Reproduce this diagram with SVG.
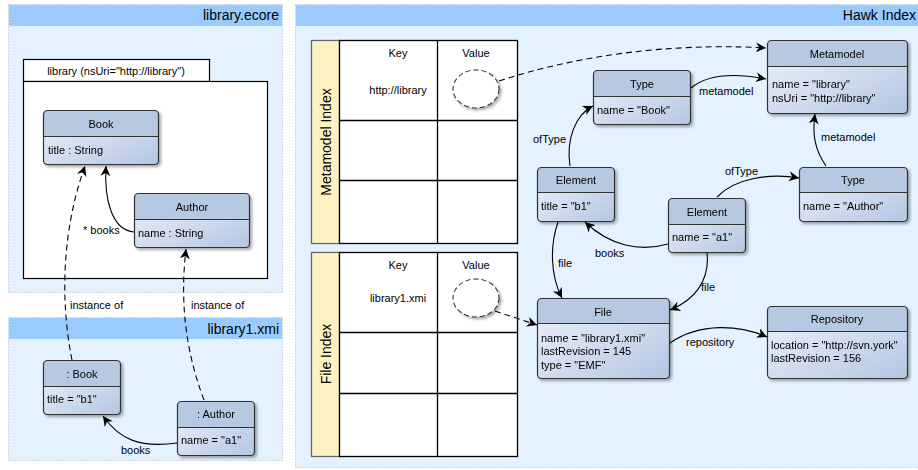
<svg xmlns="http://www.w3.org/2000/svg" width="918" height="470" viewBox="0 0 918 470">
<defs>
<style>
text{font-family:"Liberation Sans",Arial,sans-serif;fill:#000}
.t11{font-size:11px}
.t14{font-size:14px}
.mid{text-anchor:middle}
.end{text-anchor:end}
.panel{fill:#e3f2fe;stroke:#a9b4bf;stroke-dasharray:1 2;stroke-width:1}
.band{fill:#9acbfe}
.body{fill:url(#g)}
.head{fill:#b7c8e3}
.out{fill:none;stroke:#333;stroke-width:1.2}
.div{stroke:#333;stroke-width:1.2}
.cell{fill:#fff;stroke:#000;stroke-width:1.3}
.side{fill:#fff2c2;stroke:#666;stroke-width:1.3}
.c{fill:none;stroke:#000;stroke-width:1.1}
.d{stroke-dasharray:6 4}
.ell{fill:#fff;stroke:#333;stroke-width:1.1;stroke-dasharray:5 3}
</style>
<linearGradient id="g" x1="0" y1="0" x2="1" y2="1">
<stop offset="0" stop-color="#f0f3fa"/>
<stop offset="1" stop-color="#b4c6e3"/>
</linearGradient>
<filter id="sh" x="-10%" y="-10%" width="130%" height="130%">
<feDropShadow dx="2" dy="2" stdDeviation="1.5" flood-color="#000" flood-opacity="0.35"/>
</filter>
<marker id="a" viewBox="0 0 10 10" refX="10" refY="5" markerWidth="10" markerHeight="10" markerUnits="userSpaceOnUse" orient="auto">
<path d="M0,0 L10,5 L0,10 L3,5 Z" fill="#000"/>
</marker>
</defs>

<g id="panel-ecore">
<rect class="panel" x="8.5" y="4.5" width="274" height="288"/>
<rect class="band" x="9" y="5" width="273" height="21"/>
<text class="t14 end" x="279" y="20">library.ecore</text>
</g>
<g id="panel-xmi">
<rect class="panel" x="8.5" y="317.5" width="274" height="143"/>
<rect class="band" x="9" y="318" width="273" height="21"/>
<text class="t14 end" x="279" y="334">library1.xmi</text>
</g>
<g id="panel-hawk">
<rect class="panel" x="295.5" y="4.5" width="630" height="463"/>
<rect class="band" x="296" y="5" width="630" height="21"/>
<text class="t14 end" x="916" y="20">Hawk Index</text>
</g>

<g id="package-library">
<rect x="23.5" y="59.5" width="186" height="22" fill="#fff" stroke="#000" stroke-width="1.2"/>
<rect x="23.5" y="81.5" width="244" height="197" fill="#fff" stroke="#000" stroke-width="1.2"/>
<text class="t11 mid" x="116" y="75">library (nsUri="http://library")</text>
</g>

<g id="class-book" filter="url(#sh)">
<rect class="body" x="43.5" y="110.5" width="115" height="54" rx="4"/>
<path class="head" d="M43.5,136.5 V114.5 Q43.5,110.5 47.5,110.5 H154.5 Q158.5,110.5 158.5,114.5 V136.5 Z"/>
<line class="div" x1="43.5" y1="136.5" x2="158.5" y2="136.5"/>
<rect class="out" x="43.5" y="110.5" width="115" height="54" rx="4"/>
<text class="t11 mid" x="101" y="128">Book</text>
<text class="t11" x="48" y="154">title : String</text>
</g>

<g id="class-author" filter="url(#sh)">
<rect class="body" x="134.5" y="193.5" width="115" height="54" rx="4"/>
<path class="head" d="M134.5,219.5 V197.5 Q134.5,193.5 138.5,193.5 H245.5 Q249.5,193.5 249.5,197.5 V219.5 Z"/>
<line class="div" x1="134.5" y1="219.5" x2="249.5" y2="219.5"/>
<rect class="out" x="134.5" y="193.5" width="115" height="54" rx="4"/>
<text class="t11 mid" x="192" y="211">Author</text>
<text class="t11" x="138" y="237">name : String</text>
</g>

<g id="obj-book" filter="url(#sh)">
<rect class="body" x="43.5" y="360.5" width="77" height="54" rx="4"/>
<path class="head" d="M43.5,386.5 V364.5 Q43.5,360.5 47.5,360.5 H116.5 Q120.5,360.5 120.5,364.5 V386.5 Z"/>
<line class="div" x1="43.5" y1="386.5" x2="120.5" y2="386.5"/>
<rect class="out" x="43.5" y="360.5" width="77" height="54" rx="4"/>
<text class="t11 mid" x="82" y="378">: Book</text>
<text class="t11" x="47" y="403">title = "b1"</text>
</g>

<g id="obj-author" filter="url(#sh)">
<rect class="body" x="177.5" y="401.5" width="77" height="54" rx="4"/>
<path class="head" d="M177.5,427.5 V405.5 Q177.5,401.5 181.5,401.5 H250.5 Q254.5,401.5 254.5,405.5 V427.5 Z"/>
<line class="div" x1="177.5" y1="427.5" x2="254.5" y2="427.5"/>
<rect class="out" x="177.5" y="401.5" width="77" height="54" rx="4"/>
<text class="t11 mid" x="216" y="418">: Author</text>
<text class="t11" x="181" y="444">name = "a1"</text>
</g>

<g id="metamodel-index">
<rect class="side" x="311.5" y="40.5" width="28" height="203"/>
<rect class="cell" x="339.5" y="40.5" width="178" height="203"/>
<line class="cell" x1="437.5" y1="40.5" x2="437.5" y2="243.5"/>
<line class="cell" x1="339.5" y1="120.5" x2="517.5" y2="120.5"/>
<line class="cell" x1="339.5" y1="180.5" x2="517.5" y2="180.5"/>
<text class="t14 mid" transform="translate(331,142) rotate(-90)">Metamodel Index</text>
<text class="t11 mid" x="398" y="57">Key</text>
<text class="t11 mid" x="476" y="57">Value</text>
<text class="t11 mid" x="398" y="94">http://library</text>
<ellipse class="ell" cx="476" cy="89" rx="23" ry="19" filter="url(#sh)"/>
</g>

<g id="file-index">
<rect class="side" x="311.5" y="252.5" width="28" height="204"/>
<rect class="cell" x="339.5" y="252.5" width="178" height="204"/>
<line class="cell" x1="437.5" y1="252.5" x2="437.5" y2="456.5"/>
<line class="cell" x1="339.5" y1="332.5" x2="517.5" y2="332.5"/>
<line class="cell" x1="339.5" y1="393.5" x2="517.5" y2="393.5"/>
<text class="t14 mid" transform="translate(331,354) rotate(-90)">File Index</text>
<text class="t11 mid" x="398" y="269">Key</text>
<text class="t11 mid" x="476" y="269">Value</text>
<text class="t11 mid" x="398" y="302">library1.xmi</text>
<ellipse class="ell" cx="476" cy="298" rx="23" ry="19" filter="url(#sh)"/>
</g>

<g id="node-metamodel" filter="url(#sh)">
<rect class="body" x="767.5" y="40.5" width="140" height="73" rx="4"/>
<path class="head" d="M767.5,66.5 V44.5 Q767.5,40.5 771.5,40.5 H903.5 Q907.5,40.5 907.5,44.5 V66.5 Z"/>
<line class="div" x1="767.5" y1="66.5" x2="907.5" y2="66.5"/>
<rect class="out" x="767.5" y="40.5" width="140" height="73" rx="4"/>
<text class="t11 mid" x="837" y="58">Metamodel</text>
<text class="t11" x="772" y="88">name = "library"</text>
<text class="t11" x="772" y="102">nsUri = "http://library"</text>
</g>

<g id="node-type-book" filter="url(#sh)">
<rect class="body" x="593.5" y="70.5" width="97" height="54" rx="4"/>
<path class="head" d="M593.5,96.5 V74.5 Q593.5,70.5 597.5,70.5 H686.5 Q690.5,70.5 690.5,74.5 V96.5 Z"/>
<line class="div" x1="593.5" y1="96.5" x2="690.5" y2="96.5"/>
<rect class="out" x="593.5" y="70.5" width="97" height="54" rx="4"/>
<text class="t11 mid" x="642" y="88">Type</text>
<text class="t11" x="597" y="114">name = "Book"</text>
</g>

<g id="node-element-b1" filter="url(#sh)">
<rect class="body" x="537.5" y="167.5" width="77" height="54" rx="4"/>
<path class="head" d="M537.5,192.5 V171.5 Q537.5,167.5 541.5,167.5 H610.5 Q614.5,167.5 614.5,171.5 V192.5 Z"/>
<line class="div" x1="537.5" y1="192.5" x2="614.5" y2="192.5"/>
<rect class="out" x="537.5" y="167.5" width="77" height="54" rx="4"/>
<text class="t11 mid" x="576" y="184">Element</text>
<text class="t11" x="541" y="210">title = "b1"</text>
</g>

<g id="node-type-author" filter="url(#sh)">
<rect class="body" x="799.5" y="167.5" width="108" height="54" rx="4"/>
<path class="head" d="M799.5,192.5 V171.5 Q799.5,167.5 803.5,167.5 H903.5 Q907.5,167.5 907.5,171.5 V192.5 Z"/>
<line class="div" x1="799.5" y1="192.5" x2="907.5" y2="192.5"/>
<rect class="out" x="799.5" y="167.5" width="108" height="54" rx="4"/>
<text class="t11 mid" x="853" y="184">Type</text>
<text class="t11" x="803" y="210">name = "Author"</text>
</g>

<g id="node-element-a1" filter="url(#sh)">
<rect class="body" x="668.5" y="198.5" width="77" height="54" rx="4"/>
<path class="head" d="M668.5,224.5 V202.5 Q668.5,198.5 672.5,198.5 H741.5 Q745.5,198.5 745.5,202.5 V224.5 Z"/>
<line class="div" x1="668.5" y1="224.5" x2="745.5" y2="224.5"/>
<rect class="out" x="668.5" y="198.5" width="77" height="54" rx="4"/>
<text class="t11 mid" x="707" y="216">Element</text>
<text class="t11" x="672" y="241">name = "a1"</text>
</g>

<g id="node-file" filter="url(#sh)">
<rect class="body" x="537.5" y="298.5" width="132" height="80" rx="4"/>
<path class="head" d="M537.5,323.5 V302.5 Q537.5,298.5 541.5,298.5 H665.5 Q669.5,298.5 669.5,302.5 V323.5 Z"/>
<line class="div" x1="537.5" y1="323.5" x2="669.5" y2="323.5"/>
<rect class="out" x="537.5" y="298.5" width="132" height="80" rx="4"/>
<text class="t11 mid" x="603" y="316">File</text>
<text class="t11" x="541" y="342">name = "library1.xmi"</text>
<text class="t11" x="541" y="355">lastRevision = 145</text>
<text class="t11" x="541" y="369">type = "EMF"</text>
</g>

<g id="node-repository" filter="url(#sh)">
<rect class="body" x="767.5" y="306.5" width="140" height="72" rx="4"/>
<path class="head" d="M767.5,331.5 V310.5 Q767.5,306.5 771.5,306.5 H903.5 Q907.5,306.5 907.5,310.5 V331.5 Z"/>
<line class="div" x1="767.5" y1="331.5" x2="907.5" y2="331.5"/>
<rect class="out" x="767.5" y="306.5" width="140" height="72" rx="4"/>
<text class="t11 mid" x="837" y="323">Repository</text>
<text class="t11" x="771" y="349">location = "http://svn.york"</text>
<text class="t11" x="771" y="362">lastRevision = 156</text>
</g>

<g id="connectors">
<path class="c" d="M134,232 C112,230 104,200 106,166" marker-end="url(#a)"/>
<path class="c d" d="M72,360 C60,300 62,230 85,166" marker-end="url(#a)"/>
<path class="c d" d="M204,400 C185,350 180,300 186,249" marker-end="url(#a)"/>
<path class="c" d="M177,443 C140,448 120,440 103,416" marker-end="url(#a)"/>
<path class="c d" d="M499,81 C600,48 700,44 766,48" marker-end="url(#a)"/>
<path class="c d" d="M495,311 L537,325" marker-end="url(#a)"/>
<path class="c" d="M691,88 C710,72 740,74 766,79" marker-end="url(#a)"/>
<path class="c" d="M570,166 C566,140 575,115 593,106" marker-end="url(#a)"/>
<path class="c" d="M826,166 C815,150 812,135 815,114" marker-end="url(#a)"/>
<path class="c" d="M717,197 C735,178 770,173 799,178" marker-end="url(#a)"/>
<path class="c" d="M668,244 C640,252 610,246 585,222" marker-end="url(#a)"/>
<path class="c" d="M558,222 C550,245 550,275 562,298" marker-end="url(#a)"/>
<path class="c" d="M707,253 C710,280 695,300 670,310" marker-end="url(#a)"/>
<path class="c" d="M670,343 C700,322 740,325 767,337" marker-end="url(#a)"/>
<text class="t11" x="83" y="234">* books</text>
<text class="t11" x="70" y="309">instance of</text>
<text class="t11" x="191" y="309">instance of</text>
<text class="t11" x="121" y="454">books</text>
<text class="t11" x="699" y="95">metamodel</text>
<text class="t11" x="533" y="143">ofType</text>
<text class="t11" x="821" y="141">metamodel</text>
<text class="t11" x="725" y="175">ofType</text>
<text class="t11" x="595" y="257">books</text>
<text class="t11" x="558" y="267">file</text>
<text class="t11" x="701" y="291">file</text>
<text class="t11" x="686" y="346">repository</text>
</g>
</svg>
